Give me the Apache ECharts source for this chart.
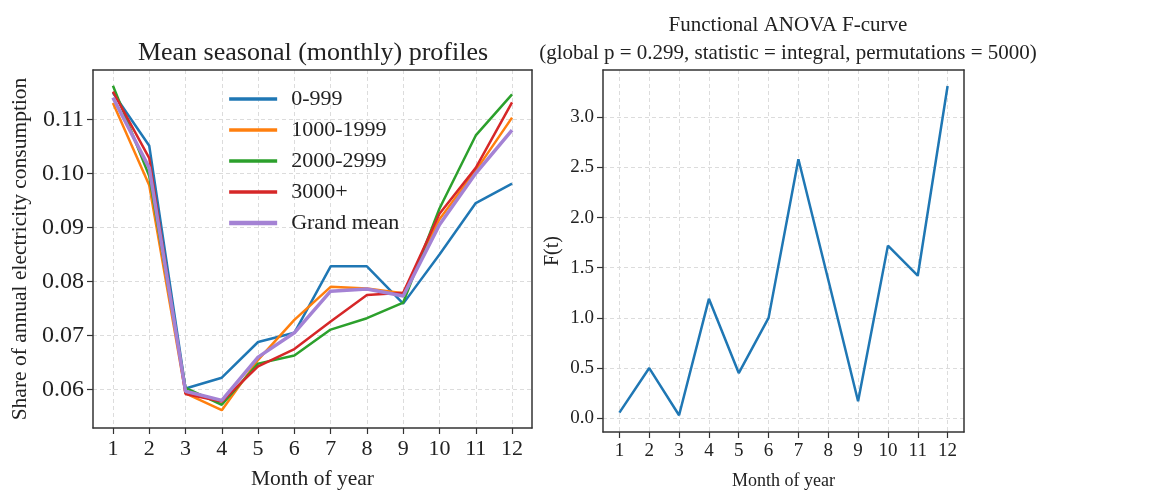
<!DOCTYPE html>
<html><head><meta charset="utf-8">
<script src="https://cdn.jsdelivr.net/npm/echarts@6/dist/echarts.min.js"></script>
<style>html,body{margin:0;padding:0;background:#fff}#c{width:1158px;height:495px}</style>
</head><body><div id="c"></div>
<script>
const months = [1,2,3,4,5,6,7,8,9,10,11,12];
const seriesNames = ['0-999','1000-1999','2000-2999','3000+','Grand mean'];
const s0_999     = [0.1149,0.1051,0.0602,0.0622,0.0688,0.0705,0.0828,0.0828,0.0759,0.0850,0.0945,0.0981];
const s1000_1999 = [0.1130,0.0978,0.0593,0.0562,0.0655,0.0729,0.0790,0.0787,0.0778,0.0915,0.1005,0.1103];
const s2000_2999 = [0.1162,0.0995,0.0603,0.0572,0.0648,0.0663,0.0711,0.0732,0.0761,0.0935,0.1070,0.1146];
const s3000plus  = [0.1151,0.1028,0.0592,0.0578,0.0643,0.0675,0.0726,0.0775,0.0779,0.0925,0.1010,0.1131];
const grandMean  = [0.1140,0.1010,0.0597,0.0580,0.0660,0.0705,0.0782,0.0786,0.0773,0.0905,0.1000,0.1080];
const fCurve     = [0.056,0.50,0.03,1.19,0.45,1.00,2.58,1.38,0.17,1.72,1.42,3.31];
const leftYTicks = [0.06,0.07,0.08,0.09,0.10,0.11];
const rightYTicks = [0.0,0.5,1.0,1.5,2.0,2.5,3.0];

const colors = ['#1f77b4','#ff7f0e','#2ca02c','#d62728','#a482d4'];
const widths = [2.5,2.5,2.5,2.5,3.5];
const FONT = '"Liberation Serif","DejaVu Serif",serif';
const pairs = arr => arr.map((v,i)=>[months[i], v]);
const grid = {type:[4,3], color:'#dcdcdc', width:1};

function xAxis(gi, fs, nfs, gap){
  return {type:'value', gridIndex:gi, min:0.45, max:12.55,
    name:'Month of year', nameLocation:'middle', nameGap:gap,
    nameTextStyle:{fontFamily:FONT, fontSize:nfs, color:'#222'},
    axisLine:{show:true, onZero:false, lineStyle:{color:'#333', width:1.5}},
    axisTick:{show:true, length:6, lineStyle:{color:'#333', width:1.2}, customValues:months},
    axisLabel:{fontFamily:FONT, fontSize:fs, color:'#222', margin:10, customValues:months},
    splitLine:{show:true, lineStyle:grid}};
}
function xAxisTop(gi){
  return {type:'value', gridIndex:gi, position:'top', min:0.45, max:12.55,
    axisLine:{show:true, onZero:false, lineStyle:{color:'#333', width:1.5}},
    axisTick:{show:false}, axisLabel:{show:false}, splitLine:{show:false}};
}
function lineSeries(i, data){
  return {name:seriesNames[i], type:'line', xAxisIndex:0, yAxisIndex:0, data:pairs(data), symbol:'none',
    lineStyle:{color:colors[i], width:widths[i]}, itemStyle:{color:colors[i]}};
}

const option = {
  animation:false,
  backgroundColor:'#fff',
  title:[
    {text:'Mean seasonal (monthly) profiles', left:308, textAlign:'center', top:35,
      textStyle:{fontFamily:FONT, fontSize:26, fontWeight:'normal', color:'#222'}},
    {text:'Functional ANOVA F-curve\n(global p = 0.299, statistic = integral, permutations = 5000)',
      left:783, textAlign:'center', top:6,
      textStyle:{fontFamily:FONT, fontSize:21, fontWeight:'normal', color:'#222', lineHeight:28}}
  ],
  legend:{data:seriesNames.map((n,i)=>({name:n, lineStyle:{width:widths[i]+0.8, color:colors[i]}})),
    orient:'vertical', left:227, top:88, padding:0,
    itemWidth:48, itemHeight:20, itemGap:9,
    itemStyle:{opacity:0},
    textStyle:{fontFamily:FONT, fontSize:22, color:'#222', lineHeight:22, padding:[0,0,0,9]}},
  grid:[
    {left:93, top:70, width:439, height:363, show:false},
    {left:603, top:70, width:361, height:363, show:false}
  ],
  xAxis:[xAxis(0,22,21.5,40), xAxisTop(0), xAxis(1,19,18,40), xAxisTop(1)],
  yAxis:[
    {type:'value', gridIndex:0, min:0.0529, max:0.1191,
      name:'Share of annual electricity consumption', nameLocation:'middle', nameGap:62,
      nameTextStyle:{fontFamily:FONT, fontSize:21.5, color:'#222'},
      axisLine:{show:true, lineStyle:{color:'#333', width:1.5}},
      axisTick:{show:true, length:6, lineStyle:{color:'#333', width:1.2}, customValues:leftYTicks},
      axisLabel:{fontFamily:FONT, fontSize:24, color:'#222', margin:9, customValues:leftYTicks,
        formatter:v=>v.toFixed(2)},
      splitLine:{show:true, lineStyle:grid}},
    {type:'value', gridIndex:0, position:'right', min:0.0529, max:0.1191,
      axisLine:{show:true, lineStyle:{color:'#333', width:1.5}},
      axisTick:{show:false}, axisLabel:{show:false}, splitLine:{show:false}},
    {type:'value', gridIndex:1, min:-0.137, max:3.47,
      name:'F(t)', nameLocation:'middle', nameGap:40,
      nameTextStyle:{fontFamily:FONT, fontSize:20, color:'#222'},
      axisLine:{show:true, lineStyle:{color:'#333', width:1.5}},
      axisTick:{show:true, length:6, lineStyle:{color:'#333', width:1.2}, customValues:rightYTicks},
      axisLabel:{fontFamily:FONT, fontSize:19, color:'#222', margin:9, customValues:rightYTicks,
        formatter:v=>v.toFixed(1)},
      splitLine:{show:true, lineStyle:grid}},
    {type:'value', gridIndex:1, position:'right', min:-0.137, max:3.47,
      axisLine:{show:true, lineStyle:{color:'#333', width:1.5}},
      axisTick:{show:false}, axisLabel:{show:false}, splitLine:{show:false}}
  ],
  series:[
    lineSeries(0, s0_999),
    lineSeries(1, s1000_1999),
    lineSeries(2, s2000_2999),
    lineSeries(3, s3000plus),
    lineSeries(4, grandMean),
    {name:'F', type:'line', xAxisIndex:2, yAxisIndex:2, data:pairs(fCurve), symbol:'none',
      lineStyle:{color:colors[0], width:2.5}, itemStyle:{color:colors[0]}}
  ]
};
echarts.init(document.getElementById('c'), null, {renderer:'canvas'}).setOption(option);
</script></body></html>
